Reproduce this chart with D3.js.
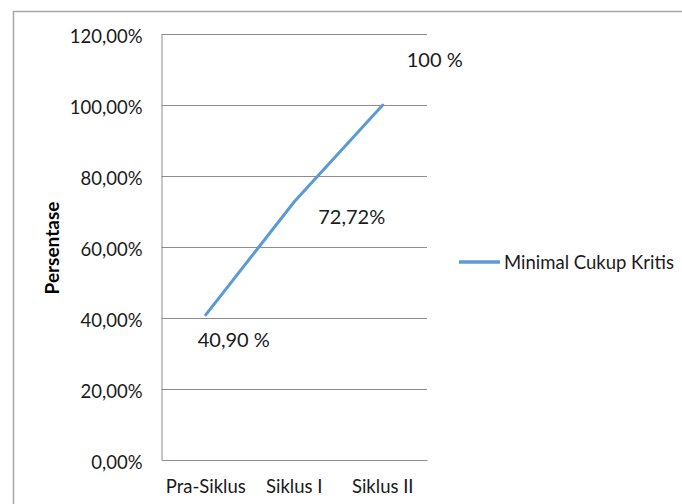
<!DOCTYPE html>
<html><head><meta charset="utf-8">
<script src="https://cdn.jsdelivr.net/npm/d3@7/dist/d3.min.js"></script>
<style>body{margin:0;background:#fff}svg{display:block}text{font-family:Lato,"Open Sans",sans-serif}</style>
</head><body><svg id="c" width="682" height="504"></svg>
<script>
const categories = ["Pra-Siklus", "Siklus I", "Siklus II"];
const values = [40.90, 72.72, 100];
const pointLabels = ["40,90 %", "72,72%", "100 %"];
const yTicks = [0, 20, 40, 60, 80, 100, 120];
const seriesName = "Minimal Cukup Kritis";
const yTitle = "Persentase";

const svg = d3.select("#c");
const L = 161.5, R = 427, T = 34, B = 460;
const x = d3.scaleBand().domain(categories).range([L, R]);
const y = d3.scaleLinear().domain([0, 120]).range([B, T]);
const fmt = v => d3.format(".2f")(v).replace(".", ",") + "%";

// outer border
svg.append("path").attr("d", "M13.5,504V11.5H682").attr("fill", "none").attr("stroke", "#a6a6a6").attr("stroke-width", 1.5);

// gridlines
svg.append("g").selectAll("line").data(yTicks.filter(d => d > 0)).join("line")
  .attr("x1", L).attr("x2", R).attr("y1", d => Math.round(y(d)) + 0.5).attr("y2", d => Math.round(y(d)) + 0.5)
  .attr("stroke", "#8c8c8c").attr("stroke-width", 1);

// y axis
const ya = svg.append("g").attr("transform", `translate(${L},0)`)
  .call(d3.axisLeft(y).tickValues(yTicks).tickFormat(fmt).tickSize(0).tickPadding(19));
ya.select(".domain").attr("stroke", "#8c8c8c");
ya.selectAll("text").attr("font-size", 18.5).attr("fill", "#1a1a1a").attr("font-family", "Lato").attr("dy", "0.45em");

// x axis
const xa = svg.append("g").attr("transform", `translate(0,${B})`)
  .call(d3.axisBottom(x).tickSize(0).tickPadding(20));
xa.select(".domain").attr("stroke", "#8c8c8c");
xa.selectAll("text").attr("font-size", 18.5).attr("fill", "#1a1a1a").attr("font-family", "Lato");

// axis title
svg.append("text").attr("transform", "translate(59,248) rotate(-90)").attr("text-anchor", "middle")
  .attr("font-size", 19).attr("font-weight", "bold").attr("fill", "#000").text(yTitle);

// line
const cx = d => x(d) + x.bandwidth() / 2;
svg.append("path").datum(values.map((v, i) => [categories[i], v]))
  .attr("d", d3.line().x(d => cx(d[0])).y(d => y(d[1])))
  .attr("fill", "none").attr("stroke", "#5b9bd5").attr("stroke-width", 3).attr("stroke-linecap", "round");

// point labels
const offs = [[-8, 32], [24, 22], [24, -38]];
svg.append("g").selectAll("text").data(pointLabels).join("text")
  .attr("x", (d, i) => cx(categories[i]) + offs[i][0])
  .attr("y", (d, i) => y(values[i]) + offs[i][1])
  .attr("font-size", 20).attr("fill", "#1a1a1a").text(d => d);

// legend
svg.append("line").attr("x1", 459).attr("x2", 500).attr("y1", 262).attr("y2", 262)
  .attr("stroke", "#5b9bd5").attr("stroke-width", 3.5);
svg.append("text").attr("x", 504).attr("y", 269).attr("font-size", 18.5).attr("fill", "#1a1a1a").text(seriesName);
</script></body></html>
